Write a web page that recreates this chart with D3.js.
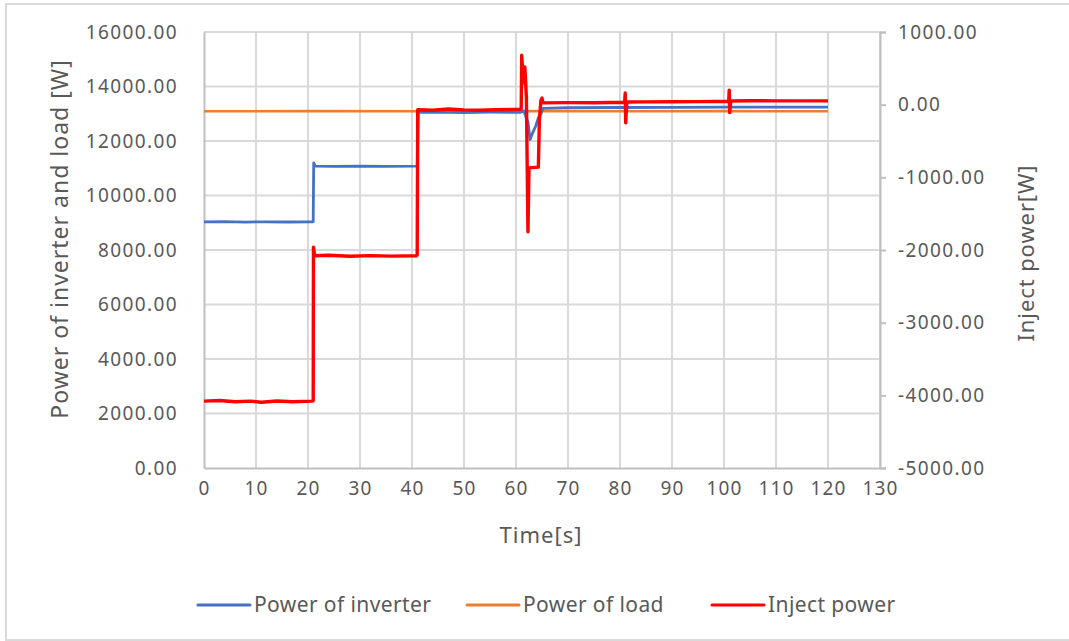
<!DOCTYPE html>
<html>
<head>
<meta charset="utf-8">
<script src="https://cdn.jsdelivr.net/npm/d3@7"></script>
<style>
  html, body { margin: 0; padding: 0; background: #fff; }
  svg { display: block; }
  text { font-family: "Noto Sans", "DejaVu Sans", sans-serif; fill: #595959; }
</style>
</head>
<body>
<svg id="chart" width="1069" height="641"></svg>
<script>
// Time axis ticks and both value-axis ticks
const timeTicks = [0, 10, 20, 30, 40, 50, 60, 70, 80, 90, 100, 110, 120, 130];
const leftTicks = [0, 2000, 4000, 6000, 8000, 10000, 12000, 14000, 16000];
const rightTicks = [-5000, -4000, -3000, -2000, -1000, 0, 1000];

// Power of inverter [W] : [time s, value]
const inverterPower = [
  [0, 9030], [4, 9040], [8, 9025], [12, 9035], [16, 9028], [20.8, 9035],
  [21.0, 9040], [21.1, 11200], [21.4, 11080], [25, 11072], [30, 11080],
  [35, 11066], [40.8, 11075], [41.0, 11080], [41.2, 13050], [45, 13058],
  [50, 13045], [55, 13056], [60.8, 13050], [61.5, 13100], [62.3, 12700],
  [62.7, 12050], [63.2, 12300], [63.8, 12550], [64.3, 12850], [64.8, 13000],
  [65.2, 13200], [70, 13220], [80, 13230], [90, 13235], [100, 13240],
  [110, 13240], [120, 13240]
];

// Power of load [W]
const loadPower = [
  [0, 13090], [20, 13095], [40, 13090], [60, 13095], [80, 13090],
  [100, 13095], [120, 13090]
];

// Inject power [W]
const injectPower = [
  [0, -4080], [3, -4072], [6, -4088], [9, -4080], [11, -4095], [14, -4078],
  [17, -4088], [20.8, -4080], [21.0, -4075], [21.05, -1960], [21.3, -2080],
  [24, -2072], [28, -2086], [32, -2078], [36, -2084], [40.8, -2080],
  [41.0, -2070], [41.1, -70], [44, -76], [47, -60], [50, -72], [53, -76],
  [56, -70], [60.8, -64], [61.0, -60], [61.1, 680], [61.4, 300], [61.7, 520],
  [62.0, 100], [62.3, -1750], [62.5, -870], [64.3, -860], [64.5, -200],
  [64.8, 60], [65.0, 90], [65.2, 25], [70, 28], [75, 26], [80.9, 34],
  [81.0, 160], [81.1, -250], [81.3, 36], [85, 38], [90, 40], [95, 42],
  [100.9, 46], [101.0, 200], [101.1, -110], [101.3, 50], [105, 54],
  [110, 52], [115, 52], [120, 52]
];

const svg = d3.select("#chart");
const plot = { left: 204, right: 880, top: 32, bottom: 468 };

const x = d3.scaleLinear().domain([0, 130]).range([plot.left, plot.right]);
const yL = d3.scaleLinear().domain([0, 16000]).range([plot.bottom, plot.top]);
const yR = d3.scaleLinear().domain([-5000, 1000]).range([plot.bottom, plot.top]);

// outer frame
svg.append("rect")
  .attr("x", 6).attr("y", 4).attr("width", 1075).attr("height", 636)
  .attr("fill", "none").attr("stroke", "#d9d9d9").attr("stroke-width", 2);

// gridlines
const grid = svg.append("g").attr("stroke", "#d9d9d9").attr("stroke-width", 2);
grid.selectAll("line.v").data(timeTicks.filter(t => t > 0)).join("line")
  .attr("x1", d => x(d)).attr("x2", d => x(d))
  .attr("y1", plot.top).attr("y2", plot.bottom);
grid.selectAll("line.h").data(leftTicks.filter(t => t > 0)).join("line")
  .attr("x1", plot.left).attr("x2", plot.right)
  .attr("y1", d => yL(d)).attr("y2", d => yL(d));

const fmt = d => d3.format(".2f")(d).replace("\u2212", "-");

// left axis
const gL = svg.append("g").attr("transform", `translate(${plot.left},0)`)
  .call(d3.axisLeft(yL).tickValues(leftTicks).tickFormat(fmt).tickSize(0).tickPadding(26));
gL.select(".domain").attr("stroke", "#bfbfbf").attr("stroke-width", 2);
gL.selectAll("text").style("font-size", "19px").attr("letter-spacing", "1.4px").attr("fill", "#595959")
  .attr("font-family", null);

// right axis
const gR = svg.append("g").attr("transform", `translate(${plot.right},0)`)
  .call(d3.axisRight(yR).tickValues(rightTicks).tickFormat(fmt).tickSize(6).tickPadding(12));
gR.select(".domain").attr("stroke", "#bfbfbf").attr("stroke-width", 2);
gR.selectAll(".tick line").attr("stroke", "#bfbfbf").attr("stroke-width", 2);
gR.selectAll("text").style("font-size", "19px").attr("letter-spacing", "1.4px").attr("fill", "#595959")
  .attr("font-family", null);

// bottom axis
const gB = svg.append("g").attr("transform", `translate(0,${plot.bottom})`)
  .call(d3.axisBottom(x).tickValues(timeTicks).tickFormat(d3.format("d")).tickSize(0).tickPadding(14));
gB.select(".domain").attr("stroke", "#bfbfbf").attr("stroke-width", 2);
gB.selectAll("text").style("font-size", "19px").attr("letter-spacing", "1.2px").attr("fill", "#595959")
  .attr("font-family", null);

// series
const lineL = d3.line().x(d => x(d[0])).y(d => yL(d[1]));
const lineR = d3.line().x(d => x(d[0])).y(d => yR(d[1]));

svg.append("path").datum(loadPower).attr("d", lineL)
  .attr("fill", "none").attr("stroke", "#ed7d31").attr("stroke-width", 2.6);
svg.append("path").datum(inverterPower).attr("d", lineL)
  .attr("fill", "none").attr("stroke", "#4472c4").attr("stroke-width", 2.8)
  .attr("stroke-linejoin", "round");
svg.append("path").datum(injectPower).attr("d", lineR)
  .attr("fill", "none").attr("stroke", "#ff0000").attr("stroke-width", 3.4)
  .attr("stroke-linejoin", "round");

// axis titles
svg.append("text")
  .attr("transform", `translate(68,239) rotate(-90)`)
  .attr("text-anchor", "middle").style("font-size", "23px").attr("letter-spacing", "1px")
  .text("Power of inverter and load [W]");
svg.append("text")
  .attr("transform", `translate(1034,253) rotate(-90)`)
  .attr("text-anchor", "middle").style("font-size", "22px").attr("letter-spacing", "0.9px")
  .text("Inject power[W]");
svg.append("text")
  .attr("x", 541).attr("y", 543)
  .attr("text-anchor", "middle").style("font-size", "22px").attr("letter-spacing", "1px")
  .text("Time[s]");

// legend
const legendItems = [
  { name: "Power of inverter", color: "#4472c4", x: 198 },
  { name: "Power of load", color: "#ed7d31", x: 467 },
  { name: "Inject power", color: "#ff0000", x: 712 }
];
const lg = svg.append("g");
legendItems.forEach(it => {
  lg.append("line").attr("x1", it.x).attr("x2", it.x + 52)
    .attr("y1", 605).attr("y2", 605)
    .attr("stroke", it.color).attr("stroke-width", 3).attr("stroke-linecap", "round");
  lg.append("text").attr("x", it.x + 56).attr("y", 612)
    .style("font-size", "21px").attr("letter-spacing", "0.4px").text(it.name);
});
</script>
</body>
</html>
